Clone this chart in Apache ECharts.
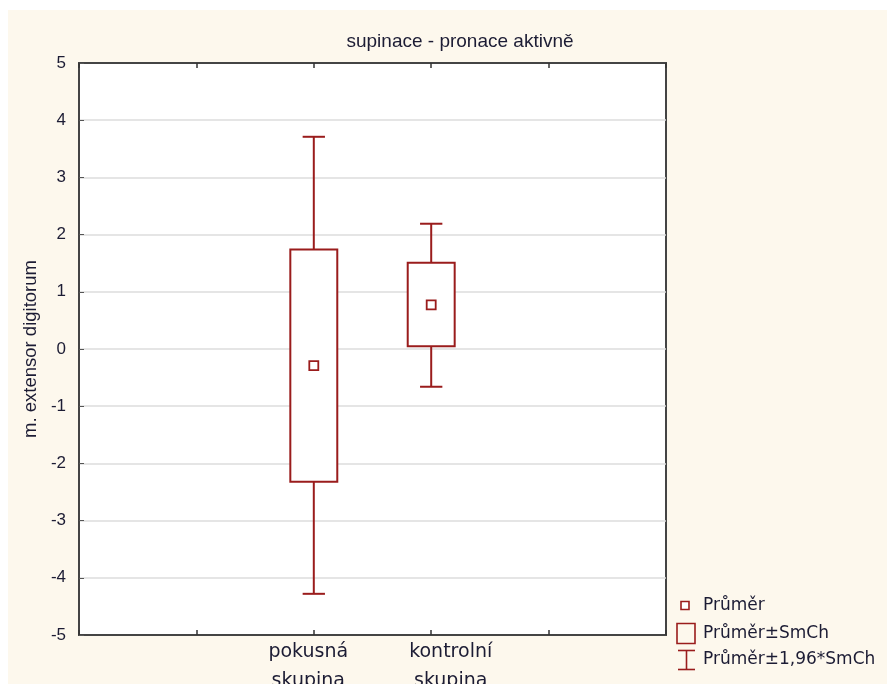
<!DOCTYPE html>
<html>
<head>
<meta charset="utf-8">
<script src="https://cdn.jsdelivr.net/npm/echarts@6/dist/echarts.min.js"></script>
<style>
html,body{margin:0;padding:0;background:#fff;}
#main{width:887px;height:684px;}
</style>
</head>
<body>
<div id="main"></div>
<script>
// ---- data ----
const categories = ['', '', 'pokusná\nskupina', 'kontrolní\nskupina', '', ''];
const groupIndex = [2, 3];
const means = [-0.29, 0.77];
const seUpper = [1.74, 1.51];
const seLower = [-2.32, 0.05];
const ciUpper = [3.71, 2.19];
const ciLower = [-4.28, -0.66];
const yTicks = [-5, -4, -3, -2, -1, 0, 1, 2, 3, 4, 5];
const titleText = 'supinace - pronace aktivně';
const yName = 'm. extensor digitorum';
const legendLabels = ['Průměr', 'Průměr±SmCh', 'Průměr±1,96*SmCh'];

const RED = '#9a1c1c';
const TXT = '#1c1c34';

const seriesData = groupIndex.map((g, i) => [g, means[i], seUpper[i], seLower[i], ciUpper[i], ciLower[i]]);

// label offsets (padding) so the category labels sit as in the original
const labelPads = {2: [0, 11, 0, 0], 3: [0, 0, 0, 39]};
const categoryData = categories.map((c, i) => labelPads[i] ? {value: c, textStyle: {padding: labelPads[i]}} : c);

const chart = echarts.init(document.getElementById('main'), null, {renderer: 'canvas'});

function renderItem(params, api) {
  const x = api.value(0);
  const pMean = api.coord([x, api.value(1)]);
  const pSeHi = api.coord([x, api.value(2)]);
  const pSeLo = api.coord([x, api.value(3)]);
  const pCiHi = api.coord([x, api.value(4)]);
  const pCiLo = api.coord([x, api.value(5)]);
  const band = api.size([1, 0])[0];
  const bw = band * 0.4;
  const cw = band * 0.19;
  const ms = 9;
  const st = {stroke: RED, lineWidth: 2, fill: null};
  const cx = pMean[0];
  return {
    type: 'group',
    children: [
      {type: 'line', shape: {x1: cx, y1: pCiHi[1], x2: cx, y2: pSeHi[1]}, style: st},
      {type: 'line', shape: {x1: cx, y1: pSeLo[1], x2: cx, y2: pCiLo[1]}, style: st},
      {type: 'line', shape: {x1: cx - cw / 2, y1: pCiHi[1], x2: cx + cw / 2, y2: pCiHi[1]}, style: st},
      {type: 'line', shape: {x1: cx - cw / 2, y1: pCiLo[1], x2: cx + cw / 2, y2: pCiLo[1]}, style: st},
      {type: 'rect', shape: {x: cx - bw / 2, y: pSeHi[1], width: bw, height: pSeLo[1] - pSeHi[1]}, style: {stroke: RED, lineWidth: 2, fill: '#fff'}},
      {type: 'rect', shape: {x: cx - ms / 2, y: pMean[1] - ms / 2, width: ms, height: ms}, style: {stroke: RED, lineWidth: 1.8, fill: '#fff'}}
    ]
  };
}

const LFONT = '17px "DejaVu Sans"';
const legendGraphics = [
  {type: 'rect', shape: {x: 681, y: 601.5, width: 8, height: 8}, style: {stroke: RED, lineWidth: 1.6, fill: '#fff'}},
  {type: 'text', x: 703, y: 606, style: {text: legendLabels[0], font: LFONT, fill: TXT, verticalAlign: 'middle'}},
  {type: 'rect', shape: {x: 677, y: 623.5, width: 18, height: 20}, style: {stroke: RED, lineWidth: 1.6, fill: 'none'}},
  {type: 'text', x: 703, y: 634, style: {text: legendLabels[1], font: LFONT, fill: TXT, verticalAlign: 'middle'}},
  {type: 'line', shape: {x1: 678, y1: 650.5, x2: 695, y2: 650.5}, style: {stroke: RED, lineWidth: 1.6}},
  {type: 'line', shape: {x1: 678, y1: 669.5, x2: 695, y2: 669.5}, style: {stroke: RED, lineWidth: 1.6}},
  {type: 'line', shape: {x1: 686.5, y1: 650.5, x2: 686.5, y2: 669.5}, style: {stroke: RED, lineWidth: 1.6}},
  {type: 'text', x: 703, y: 660, style: {text: legendLabels[2], font: LFONT, fill: TXT, verticalAlign: 'middle'}}
];

const axisLineStyle = {show: true, onZero: false, lineStyle: {color: '#444', width: 2}};

const option = {
  backgroundColor: '#fdf8ed',
  animation: false,
  title: {
    text: titleText,
    left: 455,
    top: 27,
    textAlign: 'center',
    textStyle: {fontFamily: '"Liberation Sans", Arial', fontSize: 19, fontWeight: 'normal', color: TXT}
  },
  grid: {
    left: 79, top: 63, width: 587, height: 572,
    show: true, backgroundColor: '#ffffff', borderColor: '#444', borderWidth: 2,
    containLabel: false, outerBoundsMode: 'none'
  },
  xAxis: [
    {
      type: 'category', data: categoryData, boundaryGap: false, position: 'bottom',
      axisLine: axisLineStyle,
      axisTick: {show: true, inside: true, length: 5, interval: 0, lineStyle: {color: '#333', width: 1.5}},
      axisLabel: {interval: 0, margin: 3, fontFamily: '"DejaVu Sans"', fontSize: 19, lineHeight: 29, color: TXT},
      splitLine: {show: false}
    },
    {
      type: 'category', data: categories, boundaryGap: false, position: 'top',
      axisLine: axisLineStyle,
      axisTick: {show: true, inside: true, length: 5, interval: 0, lineStyle: {color: '#333', width: 1.5}},
      axisLabel: {show: false},
      splitLine: {show: false}
    }
  ],
  yAxis: {
    type: 'value', min: -5, max: 5, interval: 1,
    name: yName, nameLocation: 'middle', nameGap: 39, nameRotate: 90,
    nameTextStyle: {fontFamily: '"Liberation Sans", Arial', fontSize: 18.5, color: TXT},
    axisLine: axisLineStyle,
    axisTick: {show: true, inside: true, length: 5, lineStyle: {color: '#555', width: 1}},
    axisLabel: {margin: 13, fontFamily: '"Liberation Sans", Arial', fontSize: 17, color: TXT,
      formatter: v => yTicks.includes(v) ? String(v) : ''},
    splitLine: {show: true, lineStyle: {color: '#dcdcdc', width: 1.5}}
  },
  graphic: [
    {type: 'rect', z: 100, shape: {x: 0, y: 0, width: 887, height: 10}, style: {fill: '#fff'}, silent: true},
    {type: 'rect', z: 100, shape: {x: 0, y: 0, width: 8, height: 684}, style: {fill: '#fff'}, silent: true},
    ...legendGraphics
  ],
  series: [{
    type: 'custom',
    renderItem: renderItem,
    data: seriesData,
    encode: {x: 0, y: [1, 2, 3, 4, 5]},
    clip: false,
    z: 5
  }]
};
chart.setOption(option);
</script>
</body>
</html>
